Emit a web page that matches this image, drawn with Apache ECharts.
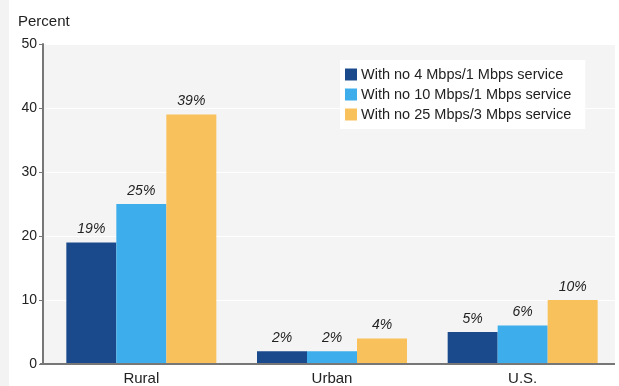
<!DOCTYPE html>
<html>
<head>
<meta charset="utf-8">
<script src="https://cdn.jsdelivr.net/npm/echarts@6/dist/echarts.min.js"></script>
<style>
html,body{margin:0;padding:0;background:#fff;}
#chart{width:619px;height:386px;}
</style>
</head>
<body>
<div id="chart"></div>
<script>
const categories = ['Rural', 'Urban', 'U.S.'];
const seriesNames = ['With no 4 Mbps/1 Mbps service', 'With no 10 Mbps/1 Mbps service', 'With no 25 Mbps/3 Mbps service'];
const no4Mbps = [19, 2, 5];
const no10Mbps = [25, 2, 6];
const no25Mbps = [39, 4, 10];
const yTicks = [0, 10, 20, 30, 40, 50];
const colors = ['#1b4a8c', '#3daeeb', '#f9c15b'];

const chart = echarts.init(document.getElementById('chart'), null, {renderer: 'canvas'});
const font = 'Liberation Sans, Arial, sans-serif';
const values = [no4Mbps, no10Mbps, no25Mbps];

const series = values.map((v, i) => ({
  name: seriesNames[i],
  type: 'bar',
  data: v,
  barWidth: 50,
  barGap: '0%',
  itemStyle: {color: colors[i]},
  label: {
    show: true, position: 'top', distance: 6,
    formatter: p => p.value + '%',
    fontFamily: font, fontSize: 14, fontStyle: 'italic', color: '#222'
  },
  z: 3
}));

chart.setOption({
  animation: false,
  color: colors,
  textStyle: {fontFamily: font},
  graphic: [
    {type: 'rect', shape: {x: 0, y: 0, width: 9, height: 386}, style: {fill: '#f3f3f3'}, z: -10},
    {type: 'rect', shape: {x: 43, y: 44, width: 572, height: 321}, style: {fill: '#f4f4f4'}, z: -5},
    {type: 'line', shape: {x1: 40, y1: 364, x2: 615, y2: 364}, style: {stroke: '#777', lineWidth: 2}, z: 10},
    {type: 'text', left: 18, top: 14, style: {text: 'Percent', font: '15px ' + font, fill: '#222'}}
  ],
  grid: {left: 46, right: 1, top: 44, bottom: 21, containLabel: false},
  legend: {
    orient: 'vertical', left: 340, top: 60,
    backgroundColor: '#fff',
    padding: [7, 14, 7, 5],
    itemGap: 5, itemWidth: 12, itemHeight: 12,
    icon: 'rect',
    textStyle: {fontFamily: font, fontSize: 14.5, color: '#222', padding: [0, 0, 0, -1]},
    data: seriesNames
  },
  xAxis: {
    type: 'category', data: categories,
    axisLine: {show: false},
    axisTick: {show: false},
    axisLabel: {fontFamily: font, fontSize: 15, color: '#222', margin: 7}
  },
  yAxis: {
    type: 'value', min: yTicks[0], max: yTicks[yTicks.length - 1], interval: 10,
    offset: 3,
    axisLine: {show: true, lineStyle: {color: '#777', width: 2}},
    axisTick: {show: true, length: 4, lineStyle: {color: '#777', width: 1}},
    axisLabel: {fontFamily: font, fontSize: 14, color: '#222', margin: 6},
    splitLine: {show: true, lineStyle: {color: '#ffffff', width: 1}}
  },
  series: series
});
</script>
</body>
</html>
